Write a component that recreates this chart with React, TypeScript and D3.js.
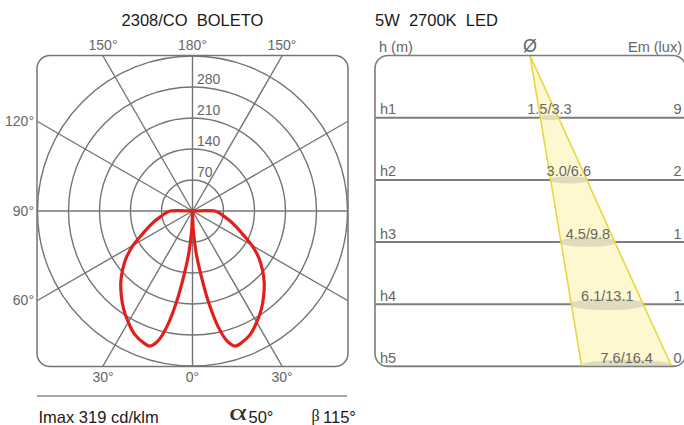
import React from 'react';
import * as d3 from 'd3';

// ---------- data ----------
const leftTitle = '2308/CO  BOLETO';
const rightTitle = '5W  2700K  LED';
const ringValues = [70, 140, 210, 280, 350];
const ringLabelValues = [70, 140, 210, 280];
const spokeAngles = [0, 30, 60, 90, 120, 150, 180, -30, -60, -90, -120, -150];
const topTicks = [150, 180, -150];
const sideTicks = [120, 90, 60];
const bottomTicks = [30, 0, -30];
// luminous intensity (cd/klm) vs angle from nadir (deg), symmetric lobes
const lobeAngles = [0, 2.5, 5, 7.5, 10, 12.5, 15, 17.5, 20, 25, 30, 35, 40, 45, 50, 55, 60, 65, 70, 75, 80, 85, 90, 95];
const lobeIntensity = [0, 45, 95, 145, 210, 268, 305, 320, 318, 308, 290, 271, 250, 229, 206, 182, 155, 126, 105, 88, 73, 62, 50, 0];
const imaxText = 'Imax 319 cd/klm';
const alphaValue = '50°';
const betaValue = '115°';

const heightLabels = ['h1', 'h2', 'h3', 'h4', 'h5'];
const diamA = [1.5, 3.0, 4.5, 6.1, 7.6];
const diamB = [3.3, 6.6, 9.8, 13.1, 16.4];
const emLabels = ['9', '2', '1', '1', '0'];

const SANS = '"Liberation Sans", Arial, Helvetica, sans-serif';
const SERIF = '"Liberation Serif", "Times New Roman", serif';
const GRID = '#747474';
const LABEL = '#666666';

export default function App() {
  // ---- polar panel ----
  const cx = 192.5, cy = 211, R = 155;
  const rScale = d3.scaleLinear().domain([0, 350]).range([0, R]);
  const spokeEnd = (deg: number) => {
    const t = (deg * Math.PI) / 180;
    const dx = -Math.sin(t), dy = Math.cos(t);
    const k = R / Math.max(Math.abs(dx), Math.abs(dy));
    return [cx + dx * k, cy + dy * k];
  };
  const lobe = (sign: number) =>
    d3
      .lineRadial<number>()
      .angle((_, i) => Math.PI + (sign * lobeAngles[i] * Math.PI) / 180)
      .radius((d) => rScale(d))
      .curve(d3.curveCatmullRom.alpha(0.5))(lobeIntensity) || '';

  // ---- cone panel ----
  const bx = 375, by = 55.5, bw = 311, bh = 311;
  const yL = d3.scaleLinear().domain([0, 5]).range([by, by + bh]);
  const apexX = 530;
  const wScale = d3.scaleLinear().domain([0, 16.4]).range([0, 90]);
  const leftSlope = 51.7 / 311;
  const coneL = (i: number) => apexX + (yL(i + 1) - by) * leftSlope;
  const coneR = (i: number) => coneL(i) + wScale(diamB[i]);
  const conePts: [number, number][] = [
    [apexX, by],
    ...diamB.map((_, i) => [coneR(i), yL(i + 1)] as [number, number]),
    ...diamB.map((_, i) => [coneL(i), yL(i + 1)] as [number, number]).reverse(),
  ];
  const conePath = d3.line()(conePts) + 'Z';
  const leftEdge = d3.line()([[apexX, by], ...diamB.map((_, i) => [coneL(i), yL(i + 1)] as [number, number])]) || '';
  const rightEdge = d3.line()([[apexX, by], ...diamB.map((_, i) => [coneR(i), yL(i + 1)] as [number, number])]) || '';

  const pre = { whiteSpace: 'pre' as const };

  return (
    <svg
      width={684}
      height={425}
      style={{ position: 'absolute', left: 0, top: 0, background: '#fff' }}
      fontFamily={SANS}
    >
      <defs>
        <clipPath id="polarClip">
          <rect x={cx - R - 0.5} y={cy - R - 0.5} width={2 * R + 1} height={2 * R + 1} rx={13} />
        </clipPath>
        <clipPath id="coneClip">
          <rect x={bx} y={by} width={bw} height={bh} rx={13} />
        </clipPath>
      </defs>

      {/* ---------- left polar ---------- */}
      <text x={cx} y={26} textAnchor="middle" fontSize={16.5} fill="#1a1a1a" style={pre}>{leftTitle}</text>
      <g clipPath="url(#polarClip)">
        {ringValues.map((v) => (
          <circle key={v} cx={cx} cy={cy} r={rScale(v)} fill="none" stroke={GRID} strokeWidth={1.4} />
        ))}
        {spokeAngles.map((a) => {
          const [x, y] = spokeEnd(a);
          return <line key={a} x1={cx} y1={cy} x2={x} y2={y} stroke={GRID} strokeWidth={1.4} />;
        })}
      </g>
      <rect x={cx - R - 0.5} y={cy - R - 0.5} width={2 * R + 1} height={2 * R + 1} rx={13} fill="none" stroke={GRID} strokeWidth={1.5} />
      {ringLabelValues.map((v) => (
        <text key={v} x={cx + 4.5} y={cy - rScale(v) - 3} fontSize={14} fill={LABEL}>{v}</text>
      ))}
      {topTicks.map((a) => (
        <text key={a} x={spokeEnd(a)[0]} y={50} textAnchor="middle" fontSize={14} fill={LABEL}>{Math.abs(a)}°</text>
      ))}
      {bottomTicks.map((a) => (
        <text key={a} x={spokeEnd(a)[0]} y={382} textAnchor="middle" fontSize={14} fill={LABEL}>{Math.abs(a)}°</text>
      ))}
      {sideTicks.map((a) => (
        <text key={a} x={34} y={spokeEnd(a)[1] + 4.5} textAnchor="end" fontSize={14} fill={LABEL}>{a}°</text>
      ))}
      <g transform={`translate(${cx},${cy})`} fill="none" stroke="#e1201b" strokeWidth={3.2} strokeLinejoin="round">
        <path d={lobe(1)} />
        <path d={lobe(-1)} />
      </g>

      <line x1={37} x2={347} y1={396} y2={396} stroke="#8a8a8a" strokeWidth={1.5} />
      <text x={38.5} y={423} fontSize={16.5} fill="#1a1a1a">{imaxText}</text>
      <text x={229} y={420} fontSize={23} fontFamily={SERIF} fill="#333" textLength={18} lengthAdjust="spacingAndGlyphs">α</text>
      <text x={248.5} y={423} fontSize={16.5} fill="#1a1a1a">{alphaValue}</text>
      <text x={311.5} y={421} fontSize={16} fontFamily={SERIF} fill="#1a1a1a">β</text>
      <text x={323} y={423} fontSize={16.5} fill="#1a1a1a">{betaValue}</text>

      {/* ---------- right cone ---------- */}
      <text x={375} y={26} fontSize={16.5} fill="#1a1a1a" style={pre}>{rightTitle}</text>
      <text x={379} y={51.5} fontSize={14.5} fill={LABEL}>h (m)</text>
      <text x={apexX} y={51.5} textAnchor="middle" fontSize={18} fill={LABEL}>Ø</text>
      <text x={682} y={51.5} textAnchor="end" fontSize={14.5} fill={LABEL}>Em (lux)</text>

      <g clipPath="url(#coneClip)">
        {heightLabels.map((h, i) => (
          <line key={h} x1={bx} x2={bx + bw} y1={yL(i + 1)} y2={yL(i + 1)} stroke="#7c7c7c" strokeWidth={2} />
        ))}
        <path d={conePath} fill="#fdf8cf" stroke="none" />
        {heightLabels.map((h, i) => {
          const w = coneR(i) - coneL(i);
          return (
            <ellipse key={h} cx={(coneL(i) + coneR(i)) / 2} cy={yL(i + 1)} rx={w / 2 + 2} ry={1.5 + w * 0.06} fill="rgba(165,165,150,0.35)" />
          );
        })}
        <path d={leftEdge} fill="none" stroke="#e8d743" strokeWidth={1.6} />
        <path d={rightEdge} fill="none" stroke="#e8d743" strokeWidth={1.6} />
      </g>
      <rect x={bx} y={by} width={bw} height={bh} rx={13} fill="none" stroke="#7c7c7c" strokeWidth={1.6} />

      {heightLabels.map((h, i) => (
        <g key={h}>
          <text x={380} y={yL(i + 1) - 3.5} fontSize={14.5} fill={LABEL}>{h}</text>
          <text x={(coneL(i) + coneR(i)) / 2} y={yL(i + 1) - 3.5} textAnchor="middle" fontSize={14.5} fill={LABEL}>
            {diamA[i].toFixed(1)}/{diamB[i].toFixed(1)}
          </text>
          <text x={673.5} y={yL(i + 1) - 3.5} fontSize={14.5} fill={LABEL}>{emLabels[i]}</text>
        </g>
      ))}
    </svg>
  );
}
